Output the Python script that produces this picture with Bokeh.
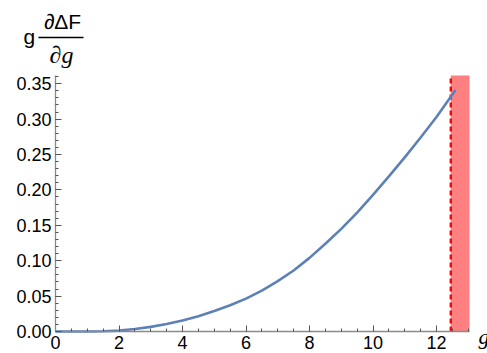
from bokeh.plotting import figure
from bokeh.models import (Range1d, FixedTicker, NumeralTickFormatter, BoxAnnotation,
                          Label, LinearAxis, ColumnDataSource)
from bokeh.embed import file_html
from bokeh.resources import INLINE

# ---- data ----
g_vals = [0.0, 0.5, 1.0, 1.5, 2.0, 2.5, 3.0, 3.5, 4.0, 4.5, 5.0, 5.5, 6.0, 6.5,
          7.0, 7.5, 8.0, 8.5, 9.0, 9.5, 10.0, 10.5, 11.0, 11.5, 12.0, 12.6]
dF_vals = [0.0, 0.0, 0.0, 0.0003, 0.0013, 0.0035, 0.0065, 0.0105, 0.0155, 0.0215,
           0.029, 0.037, 0.0465, 0.0578, 0.0712, 0.0862, 0.104, 0.124, 0.145, 0.168,
           0.193, 0.219, 0.246, 0.274, 0.303, 0.341]
g_critical = 12.45          # dashed red line
g_max = 13.04               # end of the g axis
y_max = 0.3615              # end of the vertical axis
x_ticks = [0, 2, 4, 6, 8, 10, 12]
x_minor = [i * 0.5 for i in range(0, 27)]
y_ticks = [0.0, 0.05, 0.10, 0.15, 0.20, 0.25, 0.30, 0.35]
y_minor = [i * 0.01 for i in range(0, 37)]

FONT = "Liberation Sans"
SERIF = "Liberation Serif"

W, H = 487, 353
PX_X = 31.75      # pixels per unit of g
PX_Y = 708.0      # pixels per unit of the vertical quantity
OX, OY = 55, 331  # pixel position of the origin
X0 = -OX / PX_X
Y0 = -(H - OY) / PX_Y
x_rng = Range1d(X0, X0 + W / PX_X)
y_rng = Range1d(Y0, Y0 + H / PX_Y)


def dx(px):
    return (px - OX) / PX_X


def dy(py):
    return (OY - py) / PX_Y


p = figure(width=W, height=H, output_backend="svg", toolbar_location=None,
           x_range=x_rng, y_range=y_rng, x_axis_type=None, y_axis_type=None,
           min_border=0)
p.outline_line_color = None
p.grid.visible = False
p.background_fill_color = "white"
p.border_fill_color = "white"

# red excluded region
p.add_layout(BoxAnnotation(left=g_critical, right=g_max, bottom=0, top=y_max,
                           fill_color="#FF8080", fill_alpha=1.0, line_color=None,
                           level="underlay"))
p.line([g_critical, g_critical], [0, y_max], line_color="#FF0000",
       line_width=2.4, line_dash="5 3")

src = ColumnDataSource(dict(x=g_vals, y=dF_vals))
p.line("x", "y", source=src, line_color="#5E81B5", line_width=2.6)

# axes crossing at the origin
xaxis = LinearAxis(fixed_location=0, bounds=(0, g_max),
                   ticker=FixedTicker(ticks=x_ticks, minor_ticks=x_minor))
yaxis = LinearAxis(fixed_location=0, bounds=(0, y_max),
                   ticker=FixedTicker(ticks=y_ticks, minor_ticks=y_minor),
                   formatter=NumeralTickFormatter(format="0.00"))
for ax in (xaxis, yaxis):
    ax.axis_line_color = "#8a8a8a"
    ax.axis_line_width = 1.3
    ax.major_tick_line_color = "#555555"
    ax.minor_tick_line_color = "#555555"
    ax.major_tick_in = 6
    ax.major_tick_out = 0
    ax.minor_tick_in = 3
    ax.minor_tick_out = 0
    ax.major_label_text_font = FONT
    ax.major_label_text_font_size = "18px"
    ax.major_label_text_color = "black"
xaxis.major_label_standoff = 4
yaxis.major_label_standoff = 4
p.add_layout(xaxis, "below")
p.add_layout(yaxis, "left")

# x axis label
p.add_layout(Label(x=dx(478), y=dy(336), text="g",
                   text_font=SERIF, text_font_style="italic",
                   text_font_size="22px", text_baseline="alphabetic",
                   text_align="left", text_color="black"))

# vertical axis label:  g * dDeltaF / dg
p.add_layout(Label(x=dx(23), y=dy(36), text="g",
                   text_font=FONT, text_font_size="21px",
                   text_baseline="alphabetic", text_align="left",
                   text_color="black"))
p.add_layout(Label(x=dx(62), y=dy(21), text="∂ΔF",
                   text_font=FONT, text_font_size="21px",
                   text_baseline="alphabetic", text_align="center",
                   text_color="black"))
p.add_layout(Label(x=dx(61), y=dy(54), text="∂g",
                   text_font=SERIF, text_font_style="italic",
                   text_font_size="24px",
                   text_baseline="alphabetic", text_align="center",
                   text_color="black"))
p.add_layout(BoxAnnotation(left=dx(38), right=dx(83),
                           bottom=dy(37.8), top=dy(36.3),
                           fill_color="black", fill_alpha=1.0, line_color=None))

open("out.html", "w").write(file_html(p, INLINE))
